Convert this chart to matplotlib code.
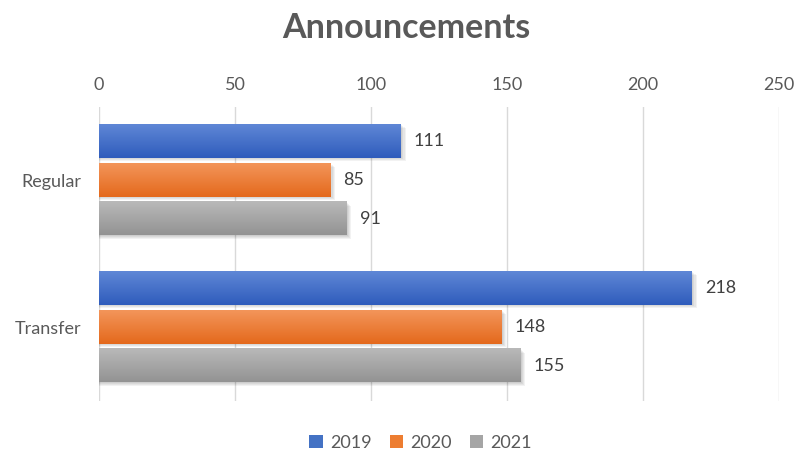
import numpy as np
import matplotlib.pyplot as plt
from matplotlib.patches import Rectangle, Patch
from matplotlib.colors import to_rgb

# --- Data ---
categories = ['Regular', 'Transfer']
years = ['2019', '2020', '2021']
values_2019 = [111, 218]
values_2020 = [85, 148]
values_2021 = [91, 155]

# top / bottom colours of the gradient fill per series
COLORS = {
    '2019': ('#5f87d6', '#2f5cbc'),
    '2020': ('#f3955a', '#e4691c'),
    '2021': ('#b9b9b9', '#939393'),
}
BASE = {'2019': '#4472C4', '2020': '#ED7D31', '2021': '#A5A5A5'}
TEXT = '#595959'

plt.rcParams['font.family'] = ['Lato', 'DejaVu Sans']

W, H = 809, 454
fig = plt.figure(figsize=(W / 100, H / 100), dpi=100)
ax = fig.add_axes([99 / W, 1 - 400.5 / H, 680 / W, 294 / H])

bar_h = 0.225
step = 0.265
series = [values_2019, values_2020, values_2021]
y_base = np.arange(len(categories))


def gradient(c_top, c_bot, n=64):
    top, bot = np.array(to_rgb(c_top)), np.array(to_rgb(c_bot))
    t = np.linspace(0, 1, n)[:, None]
    return (top * (1 - t) + bot * t)[:, None, :]


for i, (year, vals) in enumerate(zip(years, series)):
    ys = y_base + (i - 1) * step
    for y, v in zip(ys, vals):
        y0 = y - bar_h / 2
        # soft drop shadow
        for k in range(1, 5):
            ax.add_patch(Rectangle((0, y0 + 0.006 * k), v + 0.45 * k, bar_h,
                                   facecolor='black', alpha=0.05,
                                   edgecolor='none', zorder=2))
        img = gradient(*COLORS[year])
        ax.imshow(img, extent=(0, v, y0 + bar_h, y0), aspect='auto',
                  interpolation='bilinear', zorder=3)
        ax.text(v + 4.8, y, str(v), va='center', ha='left',
                fontsize=13, color='#404040', zorder=4)

ax.set_xlim(0, 250)
ax.set_ylim(1.5, -0.5)
ax.set_xticks(range(0, 251, 50))
ax.set_yticks(y_base)
ax.set_yticklabels(categories)
ax.xaxis.tick_top()
ax.tick_params(axis='both', length=0, labelsize=13, labelcolor=TEXT)
ax.tick_params(axis='x', pad=10)
ax.tick_params(axis='y', pad=13)
ax.grid(axis='x', color='#d9d9d9', linewidth=1)
ax.set_axisbelow(True)
for s in ax.spines.values():
    s.set_visible(False)

fig.text(0.502, 1 - 28 / H, 'Announcements', ha='center', va='center',
         fontsize=24.5, fontweight='bold', color=TEXT)

handles = [Patch(facecolor=BASE[y], edgecolor='none') for y in years]
fig.legend(handles, years, loc='center', bbox_to_anchor=(0.52, 1 - 443 / H),
           ncol=3, frameon=False, fontsize=13, labelcolor=TEXT,
           handlelength=0.75, handleheight=0.75, handletextpad=0.4,
           columnspacing=1.0)

fig.savefig('out.png', dpi=100)
